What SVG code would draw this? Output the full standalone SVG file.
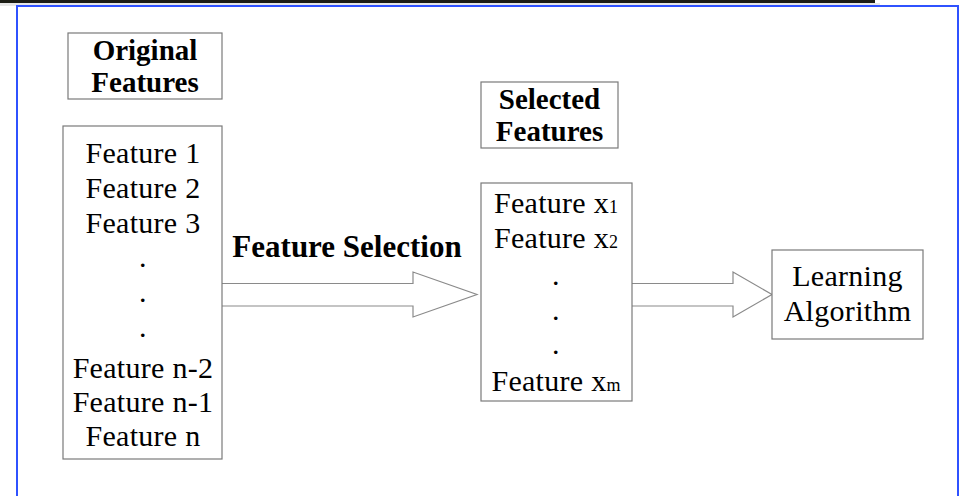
<svg xmlns="http://www.w3.org/2000/svg" width="961" height="496" viewBox="0 0 961 496">
<style>
.box{fill:#fff;stroke:#7a7a7a;stroke-width:1.2}
.t{font-family:"Liberation Serif","Times New Roman",serif;font-size:30px;fill:#000;text-anchor:middle;letter-spacing:0.3px}
.b{font-size:29px;font-weight:bold;letter-spacing:0}
.lbl{font-size:31px}
.sub{font-size:18px;letter-spacing:0}
.arrow{fill:#fff;stroke:#8a8a8a;stroke-width:1.2;stroke-linejoin:miter}
</style>
<rect x="0" y="0" width="961" height="496" fill="#fff"/>
<rect x="0" y="0" width="875" height="3" fill="#1b1c14"/>
<rect x="0" y="3" width="880" height="3" fill="#e6e6e6"/>
<rect id="frame" x="17" y="6" width="941" height="500" fill="#fff" stroke="#2f52ff" stroke-width="2"/>

<g id="connectors">
<path class="arrow" d="M222,283.5 H413 V272 L477,294.5 L413,317 V306 H222"/>
<path class="arrow" d="M632,283.5 H733 V272 L772,294.5 L733,317 V306 H632"/>
<text class="t b lbl" x="347" y="257">Feature Selection</text>
</g>

<g id="original-features">
<rect class="box" x="68" y="33" width="154" height="66"/>
<text class="t b" x="145" y="60">Original</text>
<text class="t b" x="145" y="92">Features</text>
</g>

<g id="feature-list">
<rect class="box" x="63" y="126" width="159" height="333"/>
<text class="t" x="143" y="163">Feature 1</text>
<text class="t" x="143" y="198">Feature 2</text>
<text class="t" x="143" y="233">Feature 3</text>
<text class="t" x="143" y="267">.</text>
<text class="t" x="143" y="302">.</text>
<text class="t" x="143" y="337">.</text>
<text class="t" x="143" y="378">Feature n-2</text>
<text class="t" x="143" y="412">Feature n-1</text>
<text class="t" x="143" y="446">Feature n</text>
</g>

<g id="selected-features">
<rect class="box" x="481" y="82" width="137" height="66"/>
<text class="t b" x="549.5" y="109">Selected</text>
<text class="t b" x="549.5" y="141">Features</text>
</g>

<g id="selected-list">
<rect class="box" x="481" y="183" width="151" height="218"/>
<text class="t" x="556" y="213">Feature x<tspan class="sub">1</tspan></text>
<text class="t" x="556" y="248">Feature x<tspan class="sub">2</tspan></text>
<text class="t" x="556" y="285">.</text>
<text class="t" x="556" y="320">.</text>
<text class="t" x="556" y="354">.</text>
<text class="t" x="556" y="391">Feature x<tspan class="sub">m</tspan></text>
</g>

<g id="learning-algorithm">
<rect class="box" x="772" y="250" width="151" height="89"/>
<text class="t" x="847.5" y="286">Learning</text>
<text class="t" x="847.5" y="321">Algorithm</text>
</g>
</svg>
